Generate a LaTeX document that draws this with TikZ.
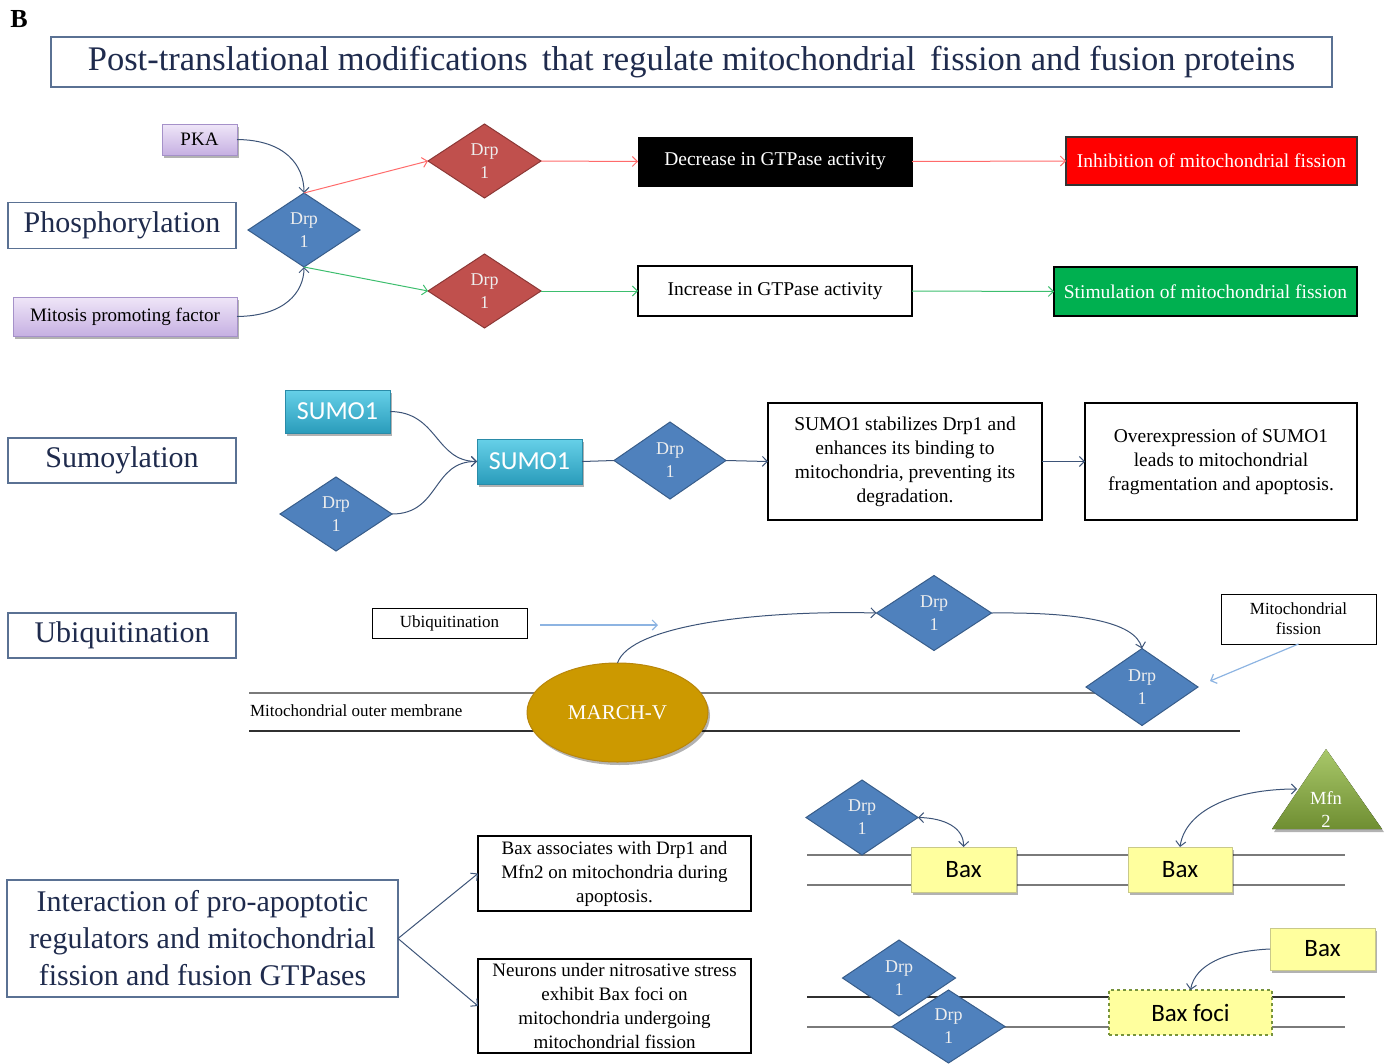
\documentclass[tikz,border=0pt]{standalone}
\usepackage{fontspec}
\setmainfont{Liberation Serif}
\newfontfamily\calib{Carlito}
\usetikzlibrary{shapes.geometric,arrows.meta,shadows}
\definecolor{navy}{HTML}{1F2B4D}
\definecolor{secborder}{HTML}{5A7193}
\definecolor{connc}{HTML}{3D5478}
\definecolor{drpfill}{HTML}{4F81BD}
\definecolor{drpbord}{HTML}{385D8A}
\definecolor{redfill}{HTML}{C0504D}
\definecolor{redbord}{HTML}{8C3836}
\definecolor{lavtop}{HTML}{EFE6F8}
\definecolor{lavbot}{HTML}{C6B0E2}
\definecolor{lavbord}{HTML}{A591C9}
\definecolor{sumotop}{HTML}{66D0E8}
\definecolor{sumobot}{HTML}{2A9CBB}
\definecolor{sumobord}{HTML}{2A8BA8}
\definecolor{baxfill}{HTML}{FFFF9E}
\definecolor{baxbord}{HTML}{C9C98A}
\definecolor{marchc}{HTML}{CC9900}
\definecolor{marchbord}{HTML}{B8860B}
\definecolor{mfntop}{HTML}{A9C86A}
\definecolor{mfnbot}{HTML}{6F8E32}
\definecolor{lred}{HTML}{FF6B6B}
\definecolor{lgreen}{HTML}{3DBE6E}
\definecolor{lblue}{HTML}{8DB4E2}
\definecolor{stimg}{HTML}{00B050}
\definecolor{fociborder}{HTML}{77933C}
\definecolor{memtop}{HTML}{7A7A7A}
\definecolor{membot}{HTML}{303030}
\definecolor{drptext}{HTML}{EEEEEE}
\tikzset{
  every node/.style={inner sep=0pt, outer sep=0pt},
  shadowed/.style={drop shadow={shadow xshift=2pt,shadow yshift=-3pt,opacity=0.3,fill=black}},
  arr/.style={-{Straight Barb[length=5pt,width=10pt]}},
  darr/.style={{Straight Barb[length=5pt,width=10pt]}-{Straight Barb[length=5pt,width=10pt]}},
  cline/.style={draw=connc, line width=1pt},
  secbox/.style={rectangle, draw=secborder, line width=1.1pt, fill=white, text=navy,
    font=\fontsize{30}{37}\selectfont, align=center},
  txtbox/.style={rectangle, draw=black, fill=white, font=\fontsize{19.5}{24}\selectfont, align=center},
  lavbox/.style={rectangle, draw=lavbord, line width=0.8pt, top color=lavtop, bottom color=lavbot,
    font=\fontsize{19}{22}\selectfont, shadowed},
  drp/.style={diamond, draw=drpbord, line width=1pt, fill=drpfill, text=drptext,
    font=\fontsize{18}{23}\selectfont, align=center, minimum width=112pt, minimum height=74pt},
  drpr/.style={drp, fill=redfill, draw=redbord},
  sumobox/.style={rectangle, draw=sumobord, line width=0.8pt, top color=sumotop, bottom color=sumobot,
    text=white, font=\calib\fontsize{26}{28}\selectfont, minimum width=105pt, minimum height=44pt, shadowed},
  baxbox/.style={rectangle, draw=baxbord, line width=0.8pt, fill=baxfill,
    font=\calib\fontsize{25}{28}\selectfont, minimum width=105pt, minimum height=45pt, shadowed},
}
\begin{document}
\begin{tikzpicture}[x=1pt,y=-1pt]
\useasboundingbox (0,0) rectangle (1386,1063);
% header
\node[font=\bfseries\fontsize{26}{26}\selectfont] (lblB) at (19,19) {B};
\node[secbox, minimum width=1281pt, minimum height=50pt, font=\fontsize{34.5}{38}\selectfont] (title) at (691.5,62)
  {\raisebox{-2pt}{Post-translational modifications\, that regulate mitochondrial\, fission and fusion proteins}};
% phosphorylation
\node[lavbox, minimum width=75pt, minimum height=31pt] (pka) at (199.5,139.5) {PKA};
\node[secbox, minimum width=228pt, minimum height=46pt] (phos) at (122,225.5) {\raisebox{-2pt}{Phosphorylation}};
\node[lavbox, minimum width=224pt, minimum height=39pt] (mpf) at (125,316.5) {Mitosis promoting factor};
\node[drp] (d0) at (304,230) {Drp\\1};
\node[drpr, minimum width=113pt] (d1) at (484.5,161) {Drp\\1};
\node[drpr, minimum width=113pt] (d2) at (484.5,291) {Drp\\1};
\node[txtbox, fill=black, text=white, line width=1pt, minimum width=274pt, minimum height=49pt] (dec) at (775,161.5) {\raisebox{-2pt}{Decrease in GTPase activity}};
\node[txtbox, line width=2.2pt, minimum width=274pt, minimum height=50pt] (inc) at (775,291) {\raisebox{-2pt}{Increase in GTPase activity}};
\node[txtbox, fill=red, text=white, line width=2pt, draw=black!80, minimum width=291pt, minimum height=48pt] (inh) at (1211.5,161) {Inhibition of mitochondrial fission};
\node[txtbox, fill=stimg, text=white, line width=2.2pt, minimum width=303pt, minimum height=49pt] (stim) at (1205.5,291.5) {Stimulation of mitochondrial fission};
\draw[cline, arr] (pka.east) .. controls (285,140) and (304,165) .. (d0.north);
\draw[cline, arr] (mpf.east) .. controls (285,316) and (304,292) .. (d0.south);
\draw[lred, line width=1pt, arr] (d0.north) -- (d1.west);
\draw[lgreen, line width=1pt, arr] (d0.south) -- (d2.west);
\draw[lred, line width=1pt, arr] (d1.east) -- (dec.west);
\draw[lred, line width=1pt, arr] (dec.east) -- (inh.west);
\draw[lgreen, line width=1pt, arr] (d2.east) -- (inc.west);
\draw[lgreen, line width=1pt, arr] (inc.east) -- (stim.west);
% sumoylation
\node[secbox, minimum width=228pt, minimum height=45pt] (sumo) at (122,460.5) {\raisebox{-2pt}{Sumoylation}};
\node[sumobox, minimum height=43pt] (s1) at (337.5,411.5) {SUMO1};
\node[drp] (ds1) at (336,514) {Drp\\1};
\node[sumobox, minimum height=45pt] (s2) at (529.5,461.5) {SUMO1};
\node[drp, minimum height=77pt] (ds2) at (670,460.5) {Drp\\1};
\node[txtbox, line width=2.2pt, minimum width=274pt, minimum height=117pt] (bs1) at (905,461.5)
  {SUMO1 stabilizes Drp1 and\\enhances its binding to\\mitochondria, preventing its\\degradation.};
\node[txtbox, line width=2.2pt, minimum width=272pt, minimum height=117pt] (bs2) at (1221,461.5)
  {Overexpression of SUMO1\\leads to mitochondrial\\fragmentation and apoptosis.};
\draw[cline, arr] (s1.east) .. controls (438,412) and (435,461) .. (s2.west);
\draw[cline, arr] (ds1.east) .. controls (440,514) and (432,461) .. (s2.west);
\draw[cline] (s2.east) -- (ds2.west);
\draw[cline, arr] (ds2.east) -- (bs1.west);
\draw[cline, arr] (bs1.east) -- (bs2.west);
% ubiquitination
\node[secbox, minimum width=228pt, minimum height=45pt] (ubq) at (122,635.5) {\raisebox{-2pt}{Ubiquitination}};
\draw[memtop, line width=1.2pt] (249,693) -- (1095,693);
\draw[membot, line width=1.2pt] (249,731) -- (1240,731);
\node[font=\fontsize{17}{20}\selectfont, anchor=west] (mom) at (250,711) {Mitochondrial outer membrane};
\node[txtbox, line width=1pt, font=\fontsize{17}{20}\selectfont, minimum width=155pt, minimum height=30pt] (ubs) at (449.5,623) {Ubiquitination};
\node[ellipse, fill=marchc, draw=marchbord, line width=1pt, minimum width=181pt, minimum height=99pt,
  text=white, font=\fontsize{21}{24}\selectfont, shadowed] (mv) at (617.5,712.5) {MARCH-V};
\node[drp, minimum width=115pt, minimum height=75pt] (du1) at (934,613) {Drp\\1};
\node[drp, minimum height=77pt] (du2) at (1142,687) {Drp\\1};
\node[txtbox, line width=1pt, font=\fontsize{17}{20}\selectfont, minimum width=155pt, minimum height=50pt] (mf) at (1298.5,619) {Mitochondrial\\fission};
\coordinate (ua) at (540,625);
\coordinate (ub) at (658,625);
\coordinate (mfe) at (1210,681);
\draw[lblue, line width=1.2pt, arr] (ua) -- (ub);
\draw[lblue, line width=1.2pt, arr] (mf.south) -- (mfe);
\draw[cline, arr] (mv.north) .. controls (630,625) and (760,610) .. (du1.west);
\draw[cline, arr] (du1.east) .. controls (1080,612) and (1135,622) .. (du2.north);
% interaction
\node[secbox, minimum width=391pt, minimum height=117pt] (inter) at (202.5,938.5)
  {Interaction of pro-apoptotic\\regulators and mitochondrial\\fission and fusion GTPases};
\node[txtbox, line width=2.2pt, font=\fontsize{19}{24}\selectfont, minimum width=273pt, minimum height=75pt] (ba) at (614.5,873.5)
  {Bax associates with Drp1 and\\Mfn2 on mitochondria during\\apoptosis.};
\node[txtbox, line width=2.2pt, font=\fontsize{19}{24}\selectfont, minimum width=273pt, minimum height=94pt] (bb) at (614.5,1006)
  {Neurons under nitrosative stress\\exhibit Bax foci on\\mitochondria undergoing\\mitochondrial fission};
\draw[cline, arr] (inter.east) -- (ba.west);
\draw[cline, arr] (inter.east) -- (bb.west);
% right panel top
\draw[memtop, line width=1.2pt] (807,855) -- (1345,855);
\draw[memtop, line width=1.2pt] (807,885) -- (1345,885);
\node[baxbox] (bx1) at (963.5,869.5) {Bax};
\node[baxbox, minimum width=104pt] (bx2) at (1180,869.5) {Bax};
\node[drp, minimum height=75pt] (di1) at (862,817.5) {Drp\\1};
\fill[top color=mfntop, bottom color=mfnbot, shadowed] (1326,749) -- (1382,829) -- (1272,829) -- cycle;
\node[text=white, font=\fontsize{18.5}{23}\selectfont, align=center] (mfn) at (1326,809) {Mfn\\2};
\coordinate (mfnl) at (1297,789);
\draw[cline, darr] (di1.east) .. controls (945,818) and (964,828) .. (bx1.north);
\draw[cline, darr] (bx2.north) .. controls (1185,812) and (1230,789) .. (mfnl);
% right panel bottom
\draw[membot, line width=1.2pt] (807,997) -- (1345,997);
\draw[memtop, line width=1.2pt] (807,1027) -- (1345,1027);
\node[drp, minimum width=113pt, minimum height=76pt] (di2) at (899,978) {Drp\\1};
\node[drp, minimum width=113pt, minimum height=73pt] (di3) at (948.5,1026.5) {Drp\\1};
\node[rectangle, fill=baxfill, draw=fociborder, dashed, line width=1.5pt, font=\calib\fontsize{25}{28}\selectfont,
  minimum width=163pt, minimum height=45pt] (foci) at (1190.5,1012.5) {Bax foci};
\node[baxbox, minimum height=42pt] (bx3) at (1322.5,949) {Bax};
\draw[cline, arr] (bx3.west) .. controls (1225,951) and (1195,965) .. (foci.north);
\end{tikzpicture}
\end{document}
